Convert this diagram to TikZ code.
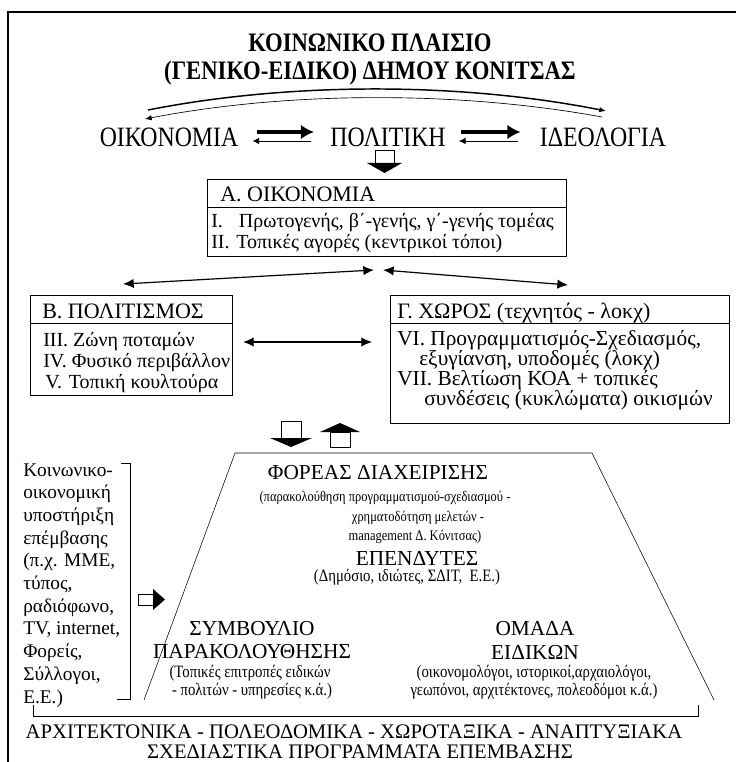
\documentclass[tikz,border=0pt]{standalone}
\usepackage{fontspec}
\setmainfont{Liberation Serif}
\newfontfamily\narrowfont{Liberation Serif}[FakeStretch=0.85]
\usetikzlibrary{arrows.meta}

\begin{document}
\begin{tikzpicture}[x=0.75pt,y=-0.75pt,
  every node/.style={inner sep=0pt},
  title/.style={font=\narrowfont\bfseries\fontsize{20}{24}\selectfont},
  row/.style={font=\narrowfont\fontsize{21}{24}\selectfont},
  head/.style={font=\fontsize{16.5}{19}\selectfont,anchor=base west},
  item/.style={font=\fontsize{15}{18}\selectfont,anchor=base west},
  itemc/.style={font=\fontsize{16}{18}\selectfont,anchor=base west},
  big/.style={font=\fontsize{16}{19}\selectfont},
  small/.style={font=\narrowfont\fontsize{11}{13}\selectfont},
  mid/.style={font=\narrowfont\fontsize{13}{15}\selectfont},
  side/.style={font=\fontsize{14.5}{16}\selectfont,anchor=base west},
  bottom/.style={font=\fontsize{15.5}{18}\selectfont},
  both/.style={line width=0.9pt,{Latex[length=8pt,width=7pt]}-{Latex[length=8pt,width=7pt]}},
  fat/.style={line width=2.4pt,-{Latex[length=10pt,width=11pt]}},
  slim/.style={line width=0.7pt,-{Latex[length=5pt,width=5pt]}}
]
\useasboundingbox (0,0) rectangle (735,762);

% Cadre
\draw[line width=1.2pt] (8,770) -- (8,12) -- (745,12);

% Titre
\node[title] (t1) at (370,43) {ΚΟΙΝΩΝΙΚΟ ΠΛΑΙΣΙΟ};
\node[title] (t2) at (370,73) {(ΓΕΝΙΚΟ-ΕΙΔΙΚΟ) ΔΗΜΟΥ ΚΟΝΙΤΣΑΣ};

% Oikonomia - Politiki - Ideologia
\node[row] (oik) at (169,137) {ΟΙΚΟΝΟΜΙΑ};
\node[row] (pol) at (388,137) {ΠΟΛΙΤΙΚΗ};
\node[row] (ide) at (603,137) {ΙΔΕΟΛΟΓΙΑ};

\draw[fat] ([shift={(18,-5)}]oik.east) -- ([shift={(-16,-5)}]pol.west);
\draw[slim] ([shift={(-19,4)}]pol.west) -- ([shift={(14,4)}]oik.east);
\draw[fat] ([shift={(15,-5)}]pol.east) -- ([shift={(-19,-5)}]ide.west);
\draw[slim] ([shift={(-22,4)}]ide.west) -- ([shift={(13,4)}]pol.east);

% Arcs
\coordinate (arcA) at (148,110);
\coordinate (arcB) at (606,111);
\coordinate (arcC) at (602,117);
\coordinate (arcD) at (145,119);
\draw[line width=1.1pt,-{Latex[length=5pt,width=4pt]}] (arcA) .. controls (290,82) and (460,82) .. (arcB);
\draw[line width=0.5pt,-{Latex[length=5pt,width=4pt]}] (arcC) .. controls (460,91) and (290,91) .. (arcD);

% Fleche vers A
\draw[fill=white] (375,150) rectangle (394,163);
\fill (367,163) -- (402,163) -- (384.5,173) -- cycle;

% A
\draw (207,179) rectangle (566,256);
\draw (207,207) -- (566,207);
\node[head] (hA) at (220,202) {Α. ΟΙΚΟΝΟΜΙΑ};
\node[item] (a1) at (211,228) {I.\hspace{12pt}Πρωτογενής, β΄-γενής, γ΄-γενής τομέας};
\node[item] (a2) at (211,249) {II.\hspace{5pt}Τοπικές αγορές (κεντρικοί τόποι)};

\coordinate (jA) at (374,270);
\coordinate (jB) at (383,270);
\coordinate (toB) at (123,284);
\coordinate (toC) at (568,285);
\draw[both] (toB) -- (jA);
\draw[both] (jB) -- (toC);

% B
\draw (30,295) rectangle (232,395);
\draw (30,323) -- (232,323);
\node[head] (hB) at (42,318) {Β. ΠΟΛΙΤΙΣΜΟΣ};
\node[item] (b1) at (43,346) {III. Ζώνη ποταμών};
\node[item] (b2) at (43,367) {IV. Φυσικό περιβάλλον};
\node[item] (b3) at (45,388) {V.\hspace{5pt}Τοπική κουλτούρα};

% Gamma
\draw (390,295) rectangle (729,423);
\draw (390,323) -- (729,323);
\node[head] (hC) at (397,318) {Γ. ΧΩΡΟΣ (τεχνητός - λοκχ)};
\node[itemc] (c1) at (397,345) {VI. Προγραμματισμός-Σχεδιασμός,};
\node[itemc] (c2) at (419,365) {εξυγίανση, υποδομές (λοκχ)};
\node[itemc] (c3) at (397,385) {VII. Βελτίωση ΚΟΑ + τοπικές};
\node[itemc] (c4) at (424,405) {συνδέσεις (κυκλώματα) οικισμών};

\coordinate (bR) at (243,342);
\coordinate (cL) at (372,342);
\draw[both] (bR) -- (cL);

% Fleches bas / haut
\draw[fill=white] (281,421) rectangle (301,438);
\fill (270,438) -- (312,438) -- (291,447) -- cycle;
\fill (320,432) -- (360,432) -- (340,423) -- cycle;
\draw[fill=white] (330,432) rectangle (350,447);

% Trapeze
\draw (144,700) -- (235,453) -- (592,453) -- (714,700);

\node[big] (foreas) at (378,473) {ΦΟΡΕΑΣ ΔΙΑΧΕΙΡΙΣΗΣ};
\node[small] (f1) at (385,498) {(παρακολούθηση προγραμματισμού-σχεδιασμού -};
\node[small] (f2) at (418,518) {χρηματοδότηση μελετών -};
\node[small] (f3) at (415,537) {management Δ. Κόνιτσας)};
\node[big] (epend) at (417,558) {ΕΠΕΝΔΥΤΕΣ};
\node[mid] (e1) at (407,577) {(Δημόσιο, ιδιώτες, ΣΔΙΤ,\ \ Ε.Ε.)};
\node[big] (symv) at (252,629) {ΣΥΜΒΟΥΛΙΟ};
\node[big] (symv2) at (252,652) {ΠΑΡΑΚΟΛΟΥΘΗΣΗΣ};
\node[mid] (s1) at (250,673) {(Τοπικές επιτροπές ειδικών};
\node[mid] (s2) at (252,691) {- πολιτών - υπηρεσίες κ.ά.)};
\node[big] (omada) at (535,629) {ΟΜΑΔΑ};
\node[big] (omada2) at (535,652) {ΕΙΔΙΚΩΝ};
\node[mid] (o1) at (534,673) {(οικονομολόγοι, ιστορικοί,αρχαιολόγοι,};
\node[mid] (o2) at (534,691) {γεωπόνοι, αρχιτέκτονες, πολεοδόμοι κ.ά.)};

% Soutien
\foreach \t [count=\i from 0] in {Κοινωνικο-,οικονομική,υποστήριξη,επέμβασης,{(π.χ. ΜΜΕ,},{τύπος,},{ραδιόφωνο,},{TV, internet,},{Φορείς,},{Σύλλογοι,},Ε.Ε.)}
  \node[side] (side\i) at (23,{476+22.7*\i}) {\t};

\draw (121,463) -- (130,463) -- (130,699) -- (117,699);
\draw[fill=white] (138,594) rectangle (153,605);
\fill (153,589) -- (165,599.5) -- (153,610) -- cycle;

% Programmes
\draw (33,705) -- (33,716) -- (698,716) -- (698,705);
\node[bottom] (prog1) at (354,732) {ΑΡΧΙΤΕΚΤΟΝΙΚΑ - ΠΟΛΕΟΔΟΜΙΚΑ - ΧΩΡΟΤΑΞΙΚΑ - ΑΝΑΠΤΥΞΙΑΚΑ};
\node[bottom] (prog2) at (360,752) {ΣΧΕΔΙΑΣΤΙΚΑ ΠΡΟΓΡΑΜΜΑΤΑ ΕΠΕΜΒΑΣΗΣ};

\end{tikzpicture}
\end{document}
